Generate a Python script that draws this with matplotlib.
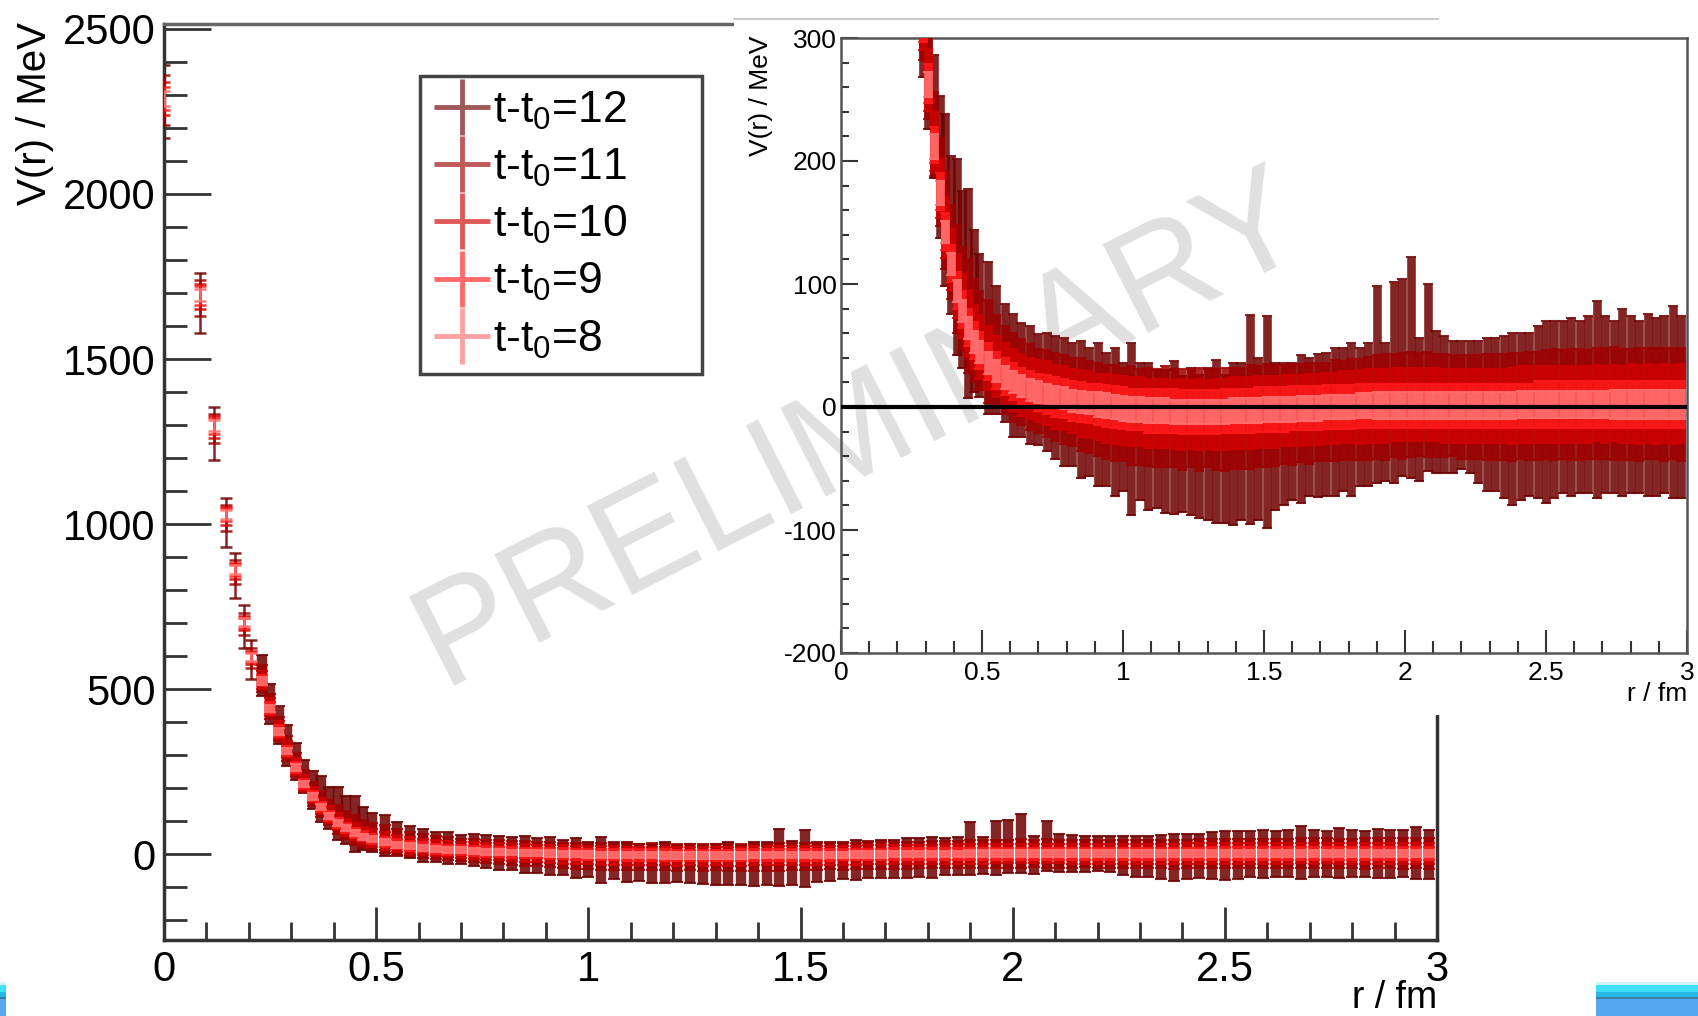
import matplotlib
matplotlib.use("Agg")
import matplotlib.pyplot as plt
from matplotlib.lines import Line2D
from matplotlib.patches import Rectangle
from matplotlib.ticker import FuncFormatter, MultipleLocator

plt.rcParams["font.family"] = ["Liberation Sans", "DejaVu Sans"]
plt.rcParams["axes.unicode_minus"] = False
plt.rcParams["mathtext.fontset"] = "custom"
plt.rcParams["mathtext.rm"] = "Liberation Sans"
plt.rcParams["mathtext.it"] = "Liberation Sans:italic"

# r / fm (shared by all t-t0 series)
r_fm = [0.0, 0.084, 0.119, 0.145, 0.168, 0.188, 0.206,
        0.23, 0.25, 0.27, 0.29, 0.31, 0.33, 0.35, 0.37, 0.39, 0.41, 0.43, 0.45, 0.47,
        0.49, 0.52, 0.55, 0.58, 0.61, 0.64, 0.67, 0.70, 0.73, 0.76, 0.79,
        0.82, 0.85, 0.88, 0.91, 0.94, 0.97, 1.00, 1.03, 1.06, 1.09,
        1.12, 1.15, 1.18, 1.21, 1.24, 1.27, 1.30, 1.33, 1.36, 1.39,
        1.42, 1.45, 1.48, 1.51, 1.54, 1.57, 1.60, 1.63, 1.66, 1.69,
        1.72, 1.75, 1.78, 1.81, 1.84, 1.87, 1.90, 1.93, 1.96, 1.99,
        2.02, 2.05, 2.08, 2.11, 2.14, 2.17, 2.20, 2.23, 2.26, 2.29,
        2.32, 2.35, 2.38, 2.41, 2.44, 2.47, 2.50, 2.53, 2.56, 2.59,
        2.62, 2.65, 2.68, 2.71, 2.74, 2.77, 2.80, 2.83, 2.86, 2.89,
        2.92, 2.95, 2.98]

# V(r) / MeV and errors, per t-t0
v_t12 = [2280, 1669, 1275, 1005, 845, 690, 590,
         540, 455, 392, 330, 282, 236, 195, 168, 140, 122, 104, 92, 78,
         66, 56, 46, 36, 26, 22, 18, 14, 12, 8, 4,
         2, -2, -4, -6, -10, -12, -16, -18, -20, -24,
         -26, -28, -25, -30, -28, -32, -30, -28, -34, -30,
         -28, -10, -26, -12, -24, -22, -20, -18, -16, -15,
         -14, -12, -10, -10, -8, -6, 18, -4, 20, 24,
         32, -2, 24, 4, 2, 0, 2, 0, -4, -6,
         -6, -8, -10, -8, -6, -4, -4, -2, 0, 0,
         0, 2, 6, 2, 0, 4, 2, 0, 2, 0,
         2, 4, 0]
e_t12 = [110, 91, 80, 73, 68, 64, 60,
         62, 60, 58, 62, 56, 50, 58, 70, 64, 80, 72, 85, 66,
         58, 62, 52, 48, 50, 46, 48, 45, 48, 50, 52,
         50, 56, 52, 58, 54, 60, 52, 70, 56, 60,
         56, 58, 62, 55, 60, 58, 62, 66, 60, 66,
         64, 85, 66, 86, 60, 58, 56, 60, 56, 58,
         58, 60, 58, 62, 56, 58, 80, 56, 82, 80,
         90, 58, 76, 58, 56, 54, 52, 54, 58, 62,
         62, 66, 70, 68, 66, 70, 74, 72, 70, 72,
         70, 72, 80, 72, 70, 76, 72, 70, 74, 72,
         72, 78, 74]

v_t11 = [2285, 1685, 1290, 1018, 855, 698, 595,
         532, 448, 380, 320, 270, 222, 183, 152, 126, 104, 88, 74, 62,
         54, 45, 37, 30, 24, 20, 16, 13, 11, 8, 6,
         4, 2, 0, -2, -4, -5, -6, -7, -8, -8,
         -9, -8, -9, -10, -9, -10, -9, -10, -10, -9,
         -9, -8, -8, -7, -7, -6, -6, -5, -5, -4,
         -4, -3, -3, -2, -2, -1, 0, 0, 1, 1,
         2, 2, 2, 1, 1, 1, 0, 0, 0, 0,
         0, 0, 0, 1, 1, 1, 2, 2, 2, 2,
         2, 2, 3, 3, 3, 2, 2, 2, 3, 3,
         2, 3, 2]
e_t11 = [75, 55, 45, 40, 36, 33, 30,
         40, 38, 36, 38, 36, 34, 36, 40, 38, 44, 42, 46, 42,
         40, 42, 38, 36, 36, 35, 35, 34, 35, 36, 36,
         36, 38, 37, 38, 38, 39, 38, 40, 39, 40,
         40, 41, 40, 41, 40, 42, 40, 41, 42, 41,
         41, 42, 41, 42, 41, 40, 41, 40, 41, 40,
         40, 41, 40, 41, 41, 42, 42, 43, 42, 43,
         43, 42, 43, 42, 42, 41, 42, 42, 42, 43,
         43, 43, 44, 43, 44, 44, 44, 45, 44, 45,
         45, 44, 45, 45, 46, 45, 45, 46, 45, 45,
         46, 45, 46]

v_t10 = [2288, 1690, 1294, 1025, 858, 700, 596,
         528, 445, 376, 316, 266, 216, 178, 146, 120, 98, 82, 68, 57,
         49, 40, 33, 27, 22, 18, 15, 13, 11, 8, 7,
         5, 3, 2, 0, -1, -2, -3, -4, -4, -5,
         -5, -5, -6, -6, -6, -6, -6, -6, -6, -5,
         -5, -5, -4, -4, -4, -3, -3, -3, -2, -2,
         -1, -1, 0, 0, 0, 1, 1, 1, 2, 2,
         2, 2, 2, 2, 1, 1, 1, 1, 1, 1,
         1, 1, 1, 2, 2, 2, 2, 2, 2, 2,
         2, 2, 3, 2, 3, 2, 3, 2, 3, 2,
         3, 2, 3]
e_t10 = [50, 38, 32, 28, 25, 22, 20,
         28, 27, 26, 26, 25, 24, 24, 25, 25, 26, 26, 27, 26,
         26, 26, 25, 25, 25, 25, 25, 25, 26, 26, 26,
         26, 27, 27, 27, 28, 28, 28, 28, 28, 28,
         28, 28, 28, 29, 28, 29, 28, 29, 29, 29,
         29, 29, 29, 29, 29, 29, 29, 29, 29, 29,
         29, 29, 29, 29, 30, 30, 30, 30, 30, 30,
         30, 30, 30, 30, 30, 30, 30, 30, 30, 30,
         30, 30, 31, 31, 31, 31, 31, 31, 31, 31,
         31, 31, 31, 31, 31, 31, 32, 32, 32, 32,
         32, 32, 32]

v_t9 = [2290, 1693, 1296, 1028, 860, 701, 597,
        526, 443, 373, 313, 263, 213, 175, 143, 117, 95, 79, 65, 54,
        46, 37, 30, 25, 21, 17, 14, 12, 10, 8, 7,
        5, 4, 3, 2, 1, 0, -1, -2, -2, -3,
        -3, -3, -3, -4, -4, -4, -4, -4, -3, -3,
        -3, -3, -2, -2, -2, -2, -1, -1, -1, -1,
        0, 0, 0, 0, 1, 1, 1, 1, 1, 1,
        1, 1, 1, 1, 1, 1, 1, 1, 1, 1,
        1, 1, 1, 1, 1, 2, 2, 2, 2, 2,
        2, 2, 2, 2, 2, 2, 2, 2, 2, 2,
        2, 2, 2]
e_t9 = [35, 28, 24, 20, 18, 16, 15,
        18, 17, 17, 16, 16, 15, 15, 15, 15, 15, 15, 15, 15,
        15, 15, 15, 15, 15, 15, 15, 15, 16, 16, 16,
        16, 16, 16, 17, 17, 17, 17, 17, 17, 18,
        18, 18, 18, 18, 18, 18, 18, 18, 18, 18,
        18, 18, 18, 18, 18, 18, 18, 18, 18, 18,
        18, 18, 18, 18, 18, 18, 18, 18, 18, 18,
        18, 18, 18, 18, 18, 18, 18, 18, 18, 18,
        18, 18, 18, 18, 18, 19, 19, 19, 19, 19,
        19, 19, 19, 19, 19, 19, 19, 19, 19, 19,
        19, 19, 19]

v_t8 = [2290, 1695, 1298, 1030, 862, 702, 598,
        525, 442, 372, 312, 262, 212, 174, 142, 116, 94, 78, 64, 53,
        45, 36, 29, 24, 20, 17, 14, 12, 10, 8, 7,
        5, 4, 3, 2, 1, 0, -1, -2, -2, -3,
        -3, -3, -4, -4, -4, -4, -4, -4, -4, -3,
        -3, -3, -3, -2, -2, -2, -2, -1, -1, -1,
        0, 0, 0, 0, 1, 1, 1, 1, 1, 1,
        1, 1, 1, 1, 1, 1, 1, 1, 1, 1,
        1, 1, 1, 2, 2, 2, 2, 2, 2, 2,
        2, 2, 2, 2, 2, 2, 2, 2, 2, 2,
        2, 2, 2]
e_t8 = [22, 18, 16, 14, 13, 12, 12,
        12, 11, 11, 10, 10, 10, 10, 9, 9, 9, 9, 9, 9,
        9, 9, 9, 9, 9, 9, 9, 9, 9, 9, 9,
        9, 9, 9, 10, 10, 10, 10, 10, 10, 10,
        10, 10, 10, 10, 10, 10, 10, 10, 10, 10,
        10, 10, 10, 10, 10, 10, 10, 10, 10, 10,
        10, 10, 10, 10, 10, 10, 11, 11, 11, 11,
        11, 11, 11, 11, 11, 11, 11, 11, 11, 11,
        11, 11, 11, 11, 11, 11, 11, 11, 11, 11,
        11, 11, 11, 11, 12, 12, 12, 12, 12, 12,
        12, 12, 12]

labels = ["t-t$_0$=12", "t-t$_0$=11", "t-t$_0$=10", "t-t$_0$=9", "t-t$_0$=8"]
values = [v_t12, v_t11, v_t10, v_t9, v_t8]
errors = [e_t12, e_t11, e_t10, e_t9, e_t8]
colors = ["#6e0000", "#9e0000", "#d00000", "#ff1a1a", "#ff7070"]
alphas = [0.85, 0.85, 0.85, 0.85, 0.9]

N_SPARSE = 7  # isolated short-distance points
W, H = 1698, 1016
AX_COL = "#333333"


def draw_points(ax, thick, cap):
    for i, (v, e, c, a) in enumerate(zip(values, errors, colors, alphas)):
        ax.errorbar(r_fm[:N_SPARSE], v[:N_SPARSE], yerr=e[:N_SPARSE], fmt="none",
                    ecolor=c, alpha=a, elinewidth=1.8, capsize=4, capthick=1.8,
                    zorder=2 + i)
        ax.errorbar(r_fm[N_SPARSE:], v[N_SPARSE:], yerr=e[N_SPARSE:], fmt="none",
                    ecolor=c, alpha=a, elinewidth=thick, capsize=cap, capthick=1.5,
                    zorder=2 + i)


def fmt(v, _):
    return f"{v:g}"


fig = plt.figure(figsize=(W / 100, H / 100), dpi=100)

# ---- main panel
ax = fig.add_axes([164 / W, 1 - 940 / H, (1437 - 164) / W, (940 - 24) / H], zorder=0)
draw_points(ax, 7.5, 4.5)
ax.set_xlim(0, 3)
ax.set_ylim(-260, 2515)
ax.xaxis.set_major_locator(MultipleLocator(0.5))
ax.xaxis.set_minor_locator(MultipleLocator(0.1))
ax.yaxis.set_major_locator(MultipleLocator(500))
ax.yaxis.set_minor_locator(MultipleLocator(100))
ax.xaxis.set_major_formatter(FuncFormatter(fmt))
ax.tick_params(axis="y", which="major", direction="in", length=34, width=2,
               color=AX_COL, labelsize=30, pad=6)
ax.tick_params(axis="y", which="minor", direction="in", length=16.5, width=2, color=AX_COL)
ax.tick_params(axis="x", which="major", direction="in", length=24, width=2,
               color=AX_COL, labelsize=30, pad=7)
ax.tick_params(axis="x", which="minor", direction="in", length=13, width=2, color=AX_COL)
for s in ax.spines.values():
    s.set_color(AX_COL)
    s.set_linewidth(2.5)
ax.spines["top"].set_color("#666666")

handles = [Line2D([], [], color=c, alpha=0.65, marker="+", markersize=40, mew=3.5, ls="none")
           for c in colors]
leg = ax.legend(handles, labels, loc="upper left", mode="expand",
                bbox_to_anchor=((420 - 164) / 1273, 0.4, (702 - 420) / 1273, (940 - 76) / 916 - 0.4),
                fontsize=32, frameon=True, fancybox=False, framealpha=1,
                edgecolor="#444444", borderpad=0.3, labelspacing=0.34,
                handlelength=1.3, handletextpad=0.05, borderaxespad=0)
leg.get_frame().set_linewidth(2.5)

fig.text(35 / W, 1 - 22 / H, "V(r) / MeV", rotation=90, ha="center", va="top", fontsize=29)
fig.text(1437 / W, 1 - 1008 / H, "r / fm", ha="right", va="baseline", fontsize=27)

# ---- inset canvas
fig.patches.append(Rectangle((734 / W, 1 - 715 / H), (W - 734) / W, (715 - 19) / H,
                             transform=fig.transFigure, facecolor="white",
                             edgecolor="none", zorder=0.3))
fig.lines.append(Line2D([734 / W, 1438 / W], [1 - 19 / H, 1 - 19 / H], color="#cccccc",
                        lw=1.5, transform=fig.transFigure, zorder=0.35))

fig.text(860 / W, 1 - 430 / H, "PRELIMINARY", fontsize=104, color="#e0e0e0",
         rotation=27, rotation_mode="anchor", ha="center", va="center", zorder=0.5)

ins = fig.add_axes([841 / W, 1 - 653 / H, (1687 - 841) / W, (653 - 38) / H], zorder=1)
ins.set_facecolor("none")
draw_points(ins, 6.2, 3.5)
ins.axhline(0, color="black", lw=3, zorder=10)
ins.set_xlim(0, 3)
ins.set_ylim(-200, 300)
ins.xaxis.set_major_locator(MultipleLocator(0.5))
ins.xaxis.set_minor_locator(MultipleLocator(0.1))
ins.yaxis.set_major_locator(MultipleLocator(100))
ins.yaxis.set_minor_locator(MultipleLocator(20))
ins.xaxis.set_major_formatter(FuncFormatter(fmt))
ins.tick_params(axis="y", which="major", direction="in", length=12, width=1.5,
                color=AX_COL, labelsize=19, pad=3)
ins.tick_params(axis="y", which="minor", direction="in", length=6, width=1.5, color=AX_COL)
ins.tick_params(axis="x", which="major", direction="in", length=16.5, width=1.5,
                color=AX_COL, labelsize=19, pad=6)
ins.tick_params(axis="x", which="minor", direction="in", length=8.5, width=1.5, color=AX_COL)
for s in ins.spines.values():
    s.set_color("#555555")
    s.set_linewidth(1.8)

fig.text(761 / W, 1 - 36 / H, "V(r) / MeV", rotation=90, ha="center", va="top", fontsize=19)
fig.text(1687 / W, 1 - 694 / H, "r / fm", ha="right", va="center", fontsize=19)

# ---- slide decoration in the corners
for x0, x1 in [(0, 6), (1596, W)]:
    for y0, y1, col in [(982, 985, "#d0f4fa"), (985, 992, "#40e0f8"), (992, 997, "#28b8e8"),
                        (997, 999, "#3a7fa8"), (999, H, "#55a8ee")]:
        fig.patches.append(Rectangle((x0 / W, 1 - y1 / H), (x1 - x0) / W, (y1 - y0) / H,
                                     transform=fig.transFigure, facecolor=col,
                                     edgecolor="none", zorder=0.2))

fig.savefig("out.png", dpi=100)
